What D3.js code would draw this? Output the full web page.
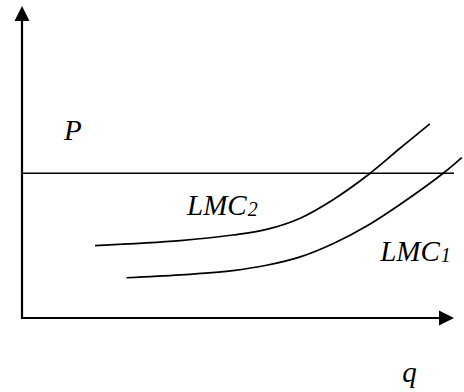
<!DOCTYPE html>
<html>
<head>
<meta charset="utf-8">
<script src="https://cdn.jsdelivr.net/npm/d3@7"></script>
<style>
  html, body { margin: 0; padding: 0; background: #fff; }
  svg { display: block; }
</style>
</head>
<body>
<svg id="chart" width="464" height="392"></svg>
<script>
// ---- data (abstract units: q 0..100, P 0..100) ----
const priceLevel = 46.4;
const lmc2Q = [16.9, 36.6, 48.8, 56.6, 64.4, 72.1, 80.6, 87.5, 94.4];
const lmc2P = [23.2, 24.8, 26.6, 28.4, 32.0, 38.0, 46.4, 54.4, 62.2];
const lmc1Q = [24.2, 36.6, 48.8, 56.6, 64.4, 72.1, 79.8, 87.5, 97.5, 101.8];
const lmc1P = [12.9, 13.8, 15.2, 16.9, 19.6, 23.9, 29.5, 36.4, 46.4, 51.4];
const labels = [
  { main: "P", sub: "", q: 9.7, p: 57.1 },
  { main: "LMC", sub: "2", q: 38.2, p: 33.0 },
  { main: "LMC", sub: "1", q: 82.9, p: 18.3 },
  { main: "q", sub: "", q: 88.0, p: -20.5 }
];

const FONT = "'Liberation Serif', 'Times New Roman', Times, serif";
const svg = d3.select("#chart");
const x = d3.scaleLinear().domain([0, 100]).range([22, 454]);
const y = d3.scaleLinear().domain([0, 100]).range([318, 6]);

// axes
const arrowLen = 15, arrowHalf = 7.5;
svg.append("line")
  .attr("x1", x(0)).attr("y1", y(0) + 1)
  .attr("x2", x(0)).attr("y2", y(100) + arrowLen)
  .attr("stroke", "#000").attr("stroke-width", 2.2);
svg.append("path")
  .attr("d", `M${x(0)},${y(100)} L${x(0) - arrowHalf},${y(100) + arrowLen} L${x(0) + arrowHalf},${y(100) + arrowLen} Z`)
  .attr("fill", "#000");
svg.append("line")
  .attr("x1", x(0) - 1).attr("y1", y(0))
  .attr("x2", x(100) - arrowLen).attr("y2", y(0))
  .attr("stroke", "#000").attr("stroke-width", 2.2);
svg.append("path")
  .attr("d", `M${x(100)},${y(0)} L${x(100) - arrowLen},${y(0) - arrowHalf} L${x(100) - arrowLen},${y(0) + arrowHalf} Z`)
  .attr("fill", "#000");

// price line
svg.append("line")
  .attr("x1", x(0)).attr("y1", y(priceLevel))
  .attr("x2", x(100)).attr("y2", y(priceLevel))
  .attr("stroke", "#000").attr("stroke-width", 1.7);

// curves
const line = d3.line().x(d => x(d[0])).y(d => y(d[1])).curve(d3.curveCatmullRom.alpha(0.5));
[[lmc2Q, lmc2P], [lmc1Q, lmc1P]].forEach(([qs, ps]) => {
  svg.append("path")
    .attr("d", line(qs.map((q, i) => [q, ps[i]])))
    .attr("fill", "none").attr("stroke", "#000").attr("stroke-width", 1.7);
});

// labels
labels.forEach(l => {
  const t = svg.append("text")
    .attr("x", x(l.q)).attr("y", y(l.p))
    .attr("font-family", FONT)
    .attr("font-style", "italic")
    .attr("font-size", 29)
    .attr("fill", "#000");
  t.append("tspan").text(l.main);
  if (l.sub) t.append("tspan").attr("font-size", 20).attr("dx", 1).attr("dy", 1).text(l.sub);
});
</script>
</body>
</html>
